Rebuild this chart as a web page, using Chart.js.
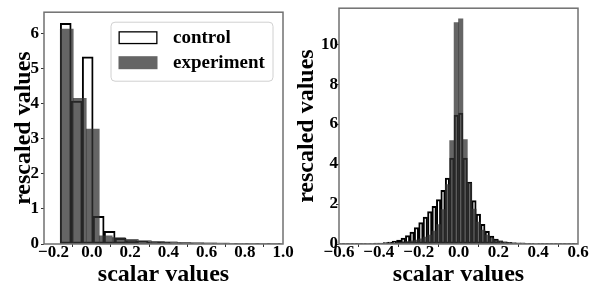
<!DOCTYPE html>
<html>
<head>
<meta charset="utf-8">
<script src="https://cdn.jsdelivr.net/npm/chart.js@4.4.1/dist/chart.umd.min.js"></script>
<style>
  html, body { margin: 0; padding: 0; background: #fff; }
  #wrap { position: relative; width: 598px; height: 286px; overflow: hidden; }
  canvas { position: absolute; top: 0; }
  #left { left: 0; }
  #right { left: 290px; }
</style>
</head>
<body>
<div id="wrap">
  <canvas id="left" width="300" height="286"></canvas>
  <canvas id="right" width="308" height="286"></canvas>
</div>
<script>
// Histogram bin heights (rescaled values)
const seriesNames = ['control', 'experiment'];

// left panel
const leftBinStart = -0.165;
const leftControlBinWidth = 0.0574;
const leftExperimentBinWidth = 0.068;
const leftControl = [6.28, 4.07, 5.33, 0.79, 0.36, 0.16, 0.10, 0.075, 0.055, 0.045,
  0.035, 0.028, 0.022, 0.018, 0.014, 0.011, 0.008, 0.006, 0.004, 0.003];
const leftExperiment = [6.12, 4.15, 3.27, 0.23, 0.18, 0.13, 0.10, 0.075, 0.06, 0.05,
  0.04, 0.032, 0.026, 0.02, 0.016, 0.012, 0.009];
const leftXTicks = [-0.2, 0, 0.2, 0.4, 0.6, 0.8, 1.0];
const leftXTickLabels = ['\u22120.2', '0.0', '0.2', '0.4', '0.6', '0.8', '1.0'];
const leftYTicks = [0, 1, 2, 3, 4, 5, 6];
const leftYTickLabels = ['0', '1', '2', '3', '4', '5', '6'];

// right panel
const rightBinStart = -0.6;
const rightBinWidth = 1.2 / 54;
const rightControl = [0.01, 0.01, 0.012, 0.015, 0.018, 0.02, 0.025, 0.03, 0.04, 0.05,
  0.07, 0.1, 0.14, 0.2, 0.3, 0.42, 0.6, 0.82, 1.07, 1.35,
  1.62, 1.88, 2.22, 2.68, 3.3, 4.3, 6.45, 6.55, 4.3, 3.1,
  2.17, 1.5, 0.98, 0.63, 0.4, 0.25, 0.16, 0.11, 0.08, 0.06,
  0.05, 0.04, 0.035, 0.03, 0.025, 0.02, 0.018, 0.015, 0.012, 0.01,
  0.01, 0.008, 0.006, 0.005];
const rightExperiment = [0.01, 0.01, 0.01, 0.012, 0.015, 0.018, 0.02, 0.025, 0.03, 0.035,
  0.04, 0.05, 0.06, 0.08, 0.1, 0.12, 0.16, 0.2, 0.26, 0.35,
  0.45, 0.65, 0.97, 1.72, 2.97, 5.18, 11.08, 11.27, 5.23, 3.05,
  1.75, 1.1, 0.7, 0.45, 0.3, 0.2, 0.14, 0.1, 0.08, 0.06,
  0.05, 0.04, 0.035, 0.03, 0.025, 0.02, 0.018, 0.015, 0.012, 0.01,
  0.01, 0.01, 0.008, 0.006];
const rightXTicks = [-0.6, -0.4, -0.2, 0, 0.2, 0.4, 0.6];
const rightXTickLabels = ['\u22120.6', '\u22120.4', '\u22120.2', '0.0', '0.2', '0.4', '0.6'];
const rightYTicks = [0, 2, 4, 6, 8, 10];
const rightYTickLabels = ['0', '2', '4', '6', '8', '10'];

const FONT = '"Liberation Serif", "Times New Roman", serif';
const GRAY = 'rgba(50, 50, 50, 0.75)';

// bin centres for the bar controller
function toBins(start, width, heights) {
  return heights.map((h, i) => ({ x: start + (i + 0.5) * width, y: h }));
}

// outline round the plot area (matplotlib spines)
const framePlugin = {
  id: 'frame',
  afterDatasetsDraw(chart) {
    const { ctx, chartArea: a } = chart;
    ctx.save();
    ctx.strokeStyle = '#707070';
    ctx.lineWidth = 1.5;
    ctx.strokeRect(a.left, a.top, a.right - a.left, a.bottom - a.top);
    ctx.restore();
  }
};

// legend box inside the upper right corner
const histLegendPlugin = {
  id: 'histLegend',
  afterDraw(chart, args, opts) {
    if (!opts.show) return;
    const { ctx, chartArea: a } = chart;
    const boxW = 162, boxH = 59;
    const bx = a.right - 10 - boxW;
    const by = a.top + 10;
    ctx.save();
    ctx.beginPath();
    ctx.roundRect(bx, by, boxW, boxH, 4);
    ctx.fillStyle = 'rgba(255, 255, 255, 0.8)';
    ctx.fill();
    ctx.strokeStyle = '#d0d0d0';
    ctx.lineWidth = 1;
    ctx.stroke();

    chart.data.datasets.forEach((ds, i) => {
      const cy = by + 15.5 + i * 25;
      const px = bx + 7.5;
      if (ds.borderWidth > 0) {
        ctx.fillStyle = '#fff';
        ctx.fillRect(px, cy - 6.5, 39, 13);
        ctx.strokeStyle = ds.borderColor;
        ctx.lineWidth = 1.3;
        ctx.strokeRect(px + 0.65, cy - 5.85, 37.7, 11.7);
      } else {
        ctx.fillStyle = ds.backgroundColor;
        ctx.fillRect(px, cy - 6.5, 39, 13);
      }
      ctx.fillStyle = '#000';
      ctx.font = 'bold 19px ' + FONT;
      ctx.textBaseline = 'middle';
      ctx.textAlign = 'left';
      ctx.fillText(ds.label, bx + 62, cy);
    });
    ctx.restore();
  }
};

function tickFont(lh) {
  return { family: FONT, size: 17, weight: 'bold', lineHeight: lh };
}

function makeChart(canvasId, cfg) {
  const xScale = (show) => ({
    type: 'linear',
    display: show,
    min: cfg.xMin,
    max: cfg.xMax,
    offset: false,
    afterBuildTicks: (s) => { s.ticks = cfg.xTicks.map(v => ({ value: v })); },
    afterFit: (s) => { s.height = show ? 42 : 0; },
    grid: { display: true, drawOnChartArea: false, drawTicks: true, tickLength: 3, tickColor: '#333' },
    border: { display: false },
    ticks: {
      autoSkip: false, maxRotation: 0, padding: -2.5,
      color: '#000', font: tickFont(1),
      callback: (v, i) => cfg.xTickLabels[i]
    },
    title: {
      display: show, text: 'scalar values', color: '#000',
      font: { family: FONT, size: 24, weight: 'bold', lineHeight: 0.9 },
      padding: { top: 0, bottom: 0 }
    }
  });

  return new Chart(document.getElementById(canvasId), {
    type: 'bar',
    data: {
      datasets: [
        {
          label: seriesNames[0],
          data: toBins(cfg.binStart, cfg.controlWidth, cfg.control),
          xAxisID: 'x',
          backgroundColor: 'rgba(255, 255, 255, 0)',
          borderColor: '#000',
          borderWidth: 1.3,
          borderSkipped: false,
          order: 1
        },
        {
          label: seriesNames[1],
          data: toBins(cfg.binStart, cfg.experimentWidth, cfg.experiment),
          xAxisID: 'x2',
          backgroundColor: GRAY,
          borderWidth: 0,
          order: 0
        }
      ]
    },
    options: {
      responsive: false,
      animation: false,
      devicePixelRatio: 1,
      layout: { padding: cfg.padding },
      datasets: {
        bar: { barPercentage: 1, categoryPercentage: 1, grouped: false }
      },
      plugins: {
        legend: { display: false },
        tooltip: { enabled: false },
        histLegend: { show: cfg.legend }
      },
      scales: {
        x: xScale(true),
        x2: xScale(false),
        y: {
          type: 'linear',
          min: 0,
          max: cfg.yMax,
          afterBuildTicks: (s) => { s.ticks = cfg.yTicks.map(v => ({ value: v })); },
          afterFit: (s) => { s.width = cfg.yWidth; },
          grid: { display: true, drawOnChartArea: false, drawTicks: true, tickLength: 3, tickColor: '#333' },
          border: { display: false },
          ticks: {
            autoSkip: false, padding: cfg.yTickPad,
            color: '#000', font: tickFont(1.2),
            callback: (v, i) => cfg.yTickLabels[i]
          },
          title: {
            display: true, text: 'rescaled values', color: '#000',
            font: { family: FONT, size: 24, weight: 'bold' },
            padding: { top: cfg.yTitlePad, bottom: 0 }
          }
        }
      }
    },
    plugins: [framePlugin, histLegendPlugin]
  });
}

makeChart('left', {
  binStart: leftBinStart,
  controlWidth: leftControlBinWidth,
  experimentWidth: leftExperimentBinWidth,
  control: leftControl,
  experiment: leftExperiment,
  xMin: -0.25, xMax: 1.0,
  xTicks: leftXTicks, xTickLabels: leftXTickLabels,
  yMax: 6.6,
  yTicks: leftYTicks, yTickLabels: leftYTickLabels,
  yWidth: 44, yTickPad: 2, yTitlePad: 9.5,
  padding: { left: 0, right: 17, top: 8, bottom: 0 },
  legend: true
});

makeChart('right', {
  binStart: rightBinStart,
  controlWidth: rightBinWidth,
  experimentWidth: rightBinWidth,
  control: rightControl,
  experiment: rightExperiment,
  xMin: -0.6, xMax: 0.6,
  xTicks: rightXTicks, xTickLabels: rightXTickLabels,
  yMax: 11.8,
  yTicks: rightYTicks, yTickLabels: rightYTickLabels,
  yWidth: 49, yTickPad: -2, yTitlePad: 2.5,
  padding: { left: 0, right: 20, top: 8, bottom: 0 },
  legend: false
});
</script>
</body>
</html>
